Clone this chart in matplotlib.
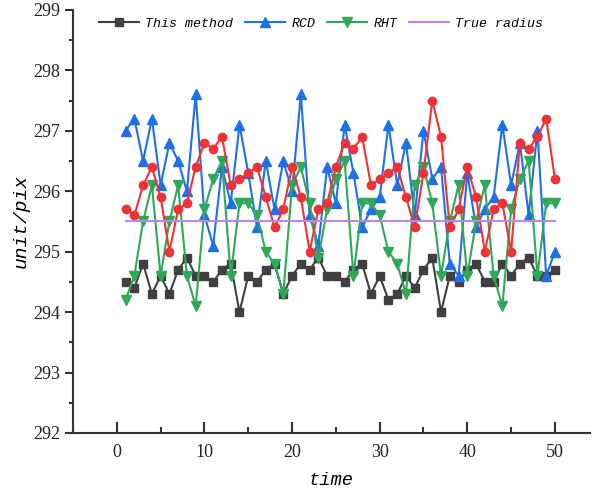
import matplotlib
matplotlib.use("Agg")
import matplotlib.pyplot as plt
from matplotlib.ticker import MultipleLocator

t = list(range(1, 51))

this_method = [294.5, 294.4, 294.8, 294.3, 294.6, 294.3, 294.7, 294.9, 294.6, 294.6,
               294.5, 294.7, 294.8, 294.0, 294.6, 294.5, 294.7, 294.8, 294.3, 294.6,
               294.8, 294.7, 294.9, 294.6, 294.6, 294.5, 294.7, 294.8, 294.3, 294.6,
               294.2, 294.3, 294.6, 294.4, 294.7, 294.9, 294.0, 294.6, 294.5, 294.7,
               294.8, 294.5, 294.5, 294.8, 294.6, 294.8, 294.9, 294.6, 294.6, 294.7]

rcd = [297.0, 297.2, 296.5, 297.2, 296.1, 296.8, 296.5, 296.0, 297.6, 295.6,
       295.1, 296.4, 295.8, 297.1, 296.3, 295.4, 296.5, 295.7, 296.5, 296.0,
       297.6, 295.6, 295.1, 296.4, 295.8, 297.1, 296.3, 295.4, 295.7, 295.9,
       297.1, 296.1, 296.8, 295.6, 297.0, 296.2, 296.4, 294.8, 294.6, 296.3,
       295.4, 295.7, 295.9, 297.1, 296.1, 296.8, 295.6, 297.0, 294.6, 295.0]

rht = [294.2, 294.6, 295.5, 296.1, 294.6, 295.5, 296.1, 294.6, 294.1, 295.7,
       296.2, 296.5, 294.6, 295.8, 295.8, 295.6, 295.0, 294.8, 294.3, 296.1,
       296.4, 295.8, 294.9, 295.7, 296.2, 296.5, 294.6, 295.8, 295.8, 295.6,
       295.0, 294.8, 294.3, 296.1, 296.4, 295.8, 294.6, 295.5, 296.1, 294.6,
       295.5, 296.1, 294.6, 294.1, 295.7, 296.2, 296.5, 294.6, 295.8, 295.8]

other = [295.7, 295.6, 296.1, 296.4, 295.9, 295.0, 295.7, 295.8, 296.4, 296.8,
         296.7, 296.9, 296.1, 296.2, 296.3, 296.4, 295.9, 295.4, 295.7, 296.4,
         295.9, 295.0, 295.7, 295.8, 296.4, 296.8, 296.7, 296.9, 296.1, 296.2,
         296.3, 296.4, 295.9, 295.4, 296.3, 297.5, 296.9, 295.4, 295.7, 296.4,
         295.9, 295.0, 295.7, 295.8, 295.0, 296.8, 296.7, 296.9, 297.2, 296.2]

true_radius = 295.5

fig = plt.figure(figsize=(5.92, 4.92), dpi=100)
ax = fig.add_axes([0.1233, 0.12, 0.8733, 0.86])

ax.plot(t, this_method, color="#404040", marker="s", markersize=5.5, linewidth=1.5, label="This method")
ax.plot(t, rcd, color="#1f6fe6", marker="^", markersize=6.5, linewidth=1.5, label="RCD")
ax.plot(t, rht, color="#2fa85a", marker="v", markersize=6.5, linewidth=1.5, label="RHT")
ax.plot(t, other, color="#ee3338", marker="o", markersize=6, linewidth=1.5, label="_nolegend_")
ax.plot([t[0], t[-1]], [true_radius, true_radius], color="#bb88e6", linewidth=1.5, label="True radius")

ax.set_xlim(-5, 54)
ax.set_ylim(292, 299)
ax.xaxis.set_major_locator(MultipleLocator(10))
ax.xaxis.set_minor_locator(MultipleLocator(5))
ax.yaxis.set_major_locator(MultipleLocator(1))
ax.yaxis.set_minor_locator(MultipleLocator(0.5))

for s in ["top", "right"]:
    ax.spines[s].set_visible(False)
for s in ["left", "bottom"]:
    ax.spines[s].set_linewidth(1.5)
    ax.spines[s].set_color("#333333")

ax.tick_params(axis="x", which="major", direction="in", length=8, width=1.5, colors="#333333", pad=8)
ax.tick_params(axis="x", which="minor", direction="in", length=4, width=1.5, colors="#333333")
ax.tick_params(axis="y", which="major", direction="out", length=6, width=1.5, colors="#333333", pad=3)
ax.tick_params(axis="y", which="minor", direction="out", length=3, width=1.5, colors="#333333")
for lab in ax.get_xticklabels() + ax.get_yticklabels():
    lab.set_fontfamily("Liberation Serif")
    lab.set_fontsize(13)
    lab.set_color("#222222")

ax.set_xlabel("time", fontfamily="Liberation Mono", style="italic", fontsize=13.5, labelpad=8)
ax.set_ylabel("unit/pix", fontfamily="Liberation Mono", style="italic", fontsize=14, labelpad=3)

ax.legend(loc="upper center", bbox_to_anchor=(0.48, 1.0), ncol=4, frameon=False,
          prop={"family": "Liberation Mono", "style": "italic", "size": 9.5},
          handlelength=3.0, columnspacing=0.9, handletextpad=0.5, borderaxespad=0.2)

fig.savefig("out.png", dpi=100)
